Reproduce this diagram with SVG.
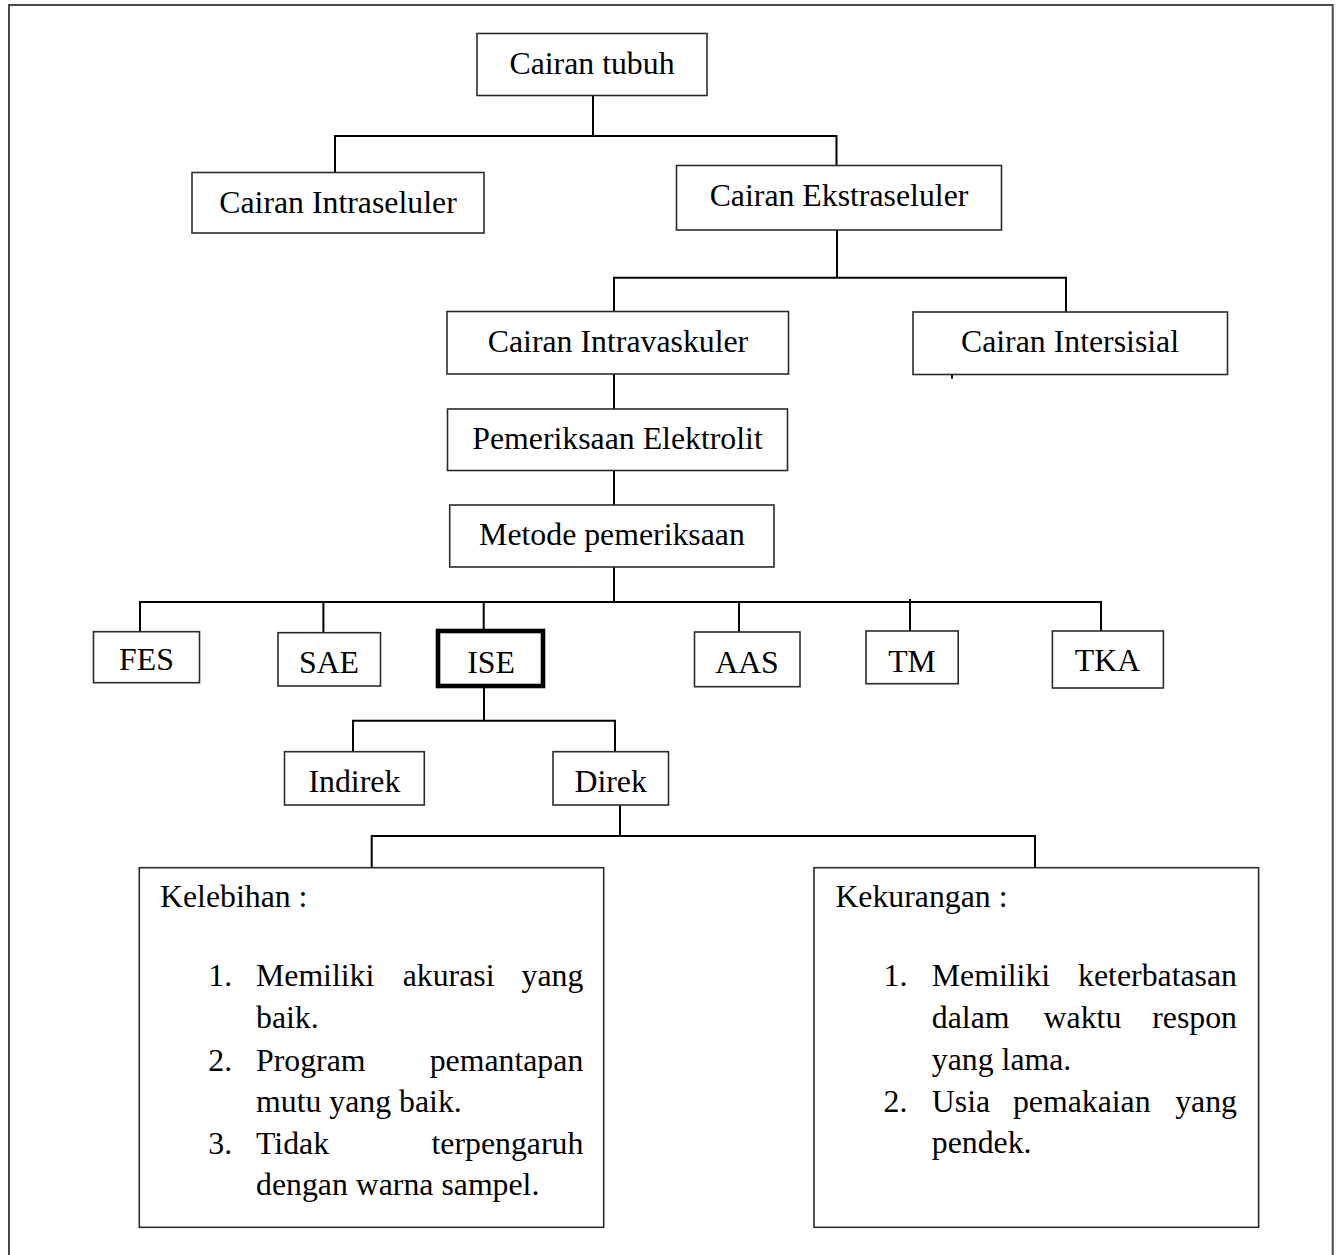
<svg xmlns="http://www.w3.org/2000/svg" width="1337" height="1255" viewBox="0 0 1337 1255">
<style>
  .box { fill: #ffffff; stroke: #2b2b2b; stroke-width: 1.6; }
  .thick { fill: #ffffff; stroke: #000000; stroke-width: 4.6; }
  .lbl { font-family: "Liberation Serif", "Times New Roman", serif; font-size: 31.8px; fill: #000000; text-anchor: middle; }
  .txt { font-family: "Liberation Serif", "Times New Roman", serif; font-size: 31.8px; fill: #000000; }
  .end { text-anchor: end; }
  .conn { fill: none; stroke: #000000; stroke-width: 2; }
</style>
<rect x="0" y="0" width="1337" height="1255" fill="#ffffff"/>
<rect id="frame" x="9" y="5" width="1323.7" height="1270" fill="none" stroke="#4a4a4a" stroke-width="2"/>

<g id="connectors">
  <path class="conn" d="M593,95.5 V136"/>
  <path class="conn" d="M335,172.5 V136 H836.5 V165.5"/>
  <path class="conn" d="M837,230 V277.7"/>
  <path class="conn" d="M614,311.5 V277.7 H1066 V312"/>
  <path class="conn" d="M614,374 V409"/>
  <path class="conn" d="M614,470.5 V505"/>
  <path class="conn" d="M614,567 V602"/>
  <path class="conn" d="M140,631.7 V602 H1101 V631"/>
  <path class="conn" d="M323.4,602 V632.7"/>
  <path class="conn" d="M483.7,602 V629"/>
  <path class="conn" d="M739,602 V632"/>
  <path class="conn" d="M910,599 V631"/>
  <path class="conn" d="M484,688 V720.7"/>
  <path class="conn" d="M353,751.7 V720.7 H615 V751.7"/>
  <path class="conn" d="M620,805 V836"/>
  <path class="conn" d="M371.7,867.7 V836 H1035 V867.7"/>
  <path class="conn" d="M952,374.5 V378.5"/>
</g>

<g id="cairan-tubuh">
  <rect class="box" x="477" y="33.5" width="230" height="62"/>
  <text class="lbl" x="592" y="74">Cairan tubuh</text>
</g>
<g id="cairan-intraseluler">
  <rect class="box" x="192" y="172.5" width="292" height="60.5"/>
  <text class="lbl" x="338" y="213">Cairan Intraseluler</text>
</g>
<g id="cairan-ekstraseluler">
  <rect class="box" x="676.5" y="165.5" width="325" height="64.5"/>
  <text class="lbl" x="839" y="205.7">Cairan Ekstraseluler</text>
</g>
<g id="cairan-intravaskuler">
  <rect class="box" x="447" y="311.5" width="341.5" height="62.5"/>
  <text class="lbl" x="618" y="351.7">Cairan Intravaskuler</text>
</g>
<g id="cairan-intersisial">
  <rect class="box" x="913" y="312" width="314.5" height="62.5"/>
  <text class="lbl" x="1070" y="351.7">Cairan Intersisial</text>
</g>
<g id="pemeriksaan-elektrolit">
  <rect class="box" x="447.5" y="409" width="340" height="61.5"/>
  <text class="lbl" x="617.5" y="449">Pemeriksaan Elektrolit</text>
</g>
<g id="metode-pemeriksaan">
  <rect class="box" x="449.7" y="505" width="324.3" height="62"/>
  <text class="lbl" x="612" y="545">Metode pemeriksaan</text>
</g>
<g id="fes">
  <rect class="box" x="93.5" y="631.7" width="106" height="51"/>
  <text class="lbl" x="146.5" y="670">FES</text>
</g>
<g id="sae">
  <rect class="box" x="278" y="632.7" width="102.5" height="53.3"/>
  <text class="lbl" x="329" y="672.7">SAE</text>
</g>
<g id="ise">
  <rect class="thick" x="438" y="631" width="105" height="55"/>
  <text class="lbl" x="491" y="672.7">ISE</text>
</g>
<g id="aas">
  <rect class="box" x="694.5" y="632" width="105.5" height="54.7"/>
  <text class="lbl" x="747" y="672.7">AAS</text>
</g>
<g id="tm">
  <rect class="box" x="866" y="631" width="92.2" height="52.7"/>
  <text class="lbl" x="912" y="671.7">TM</text>
</g>
<g id="tka">
  <rect class="box" x="1052.4" y="631" width="111" height="57"/>
  <text class="lbl" x="1107.5" y="671">TKA</text>
</g>
<g id="indirek">
  <rect class="box" x="284.5" y="751.7" width="139.8" height="53.3"/>
  <text class="lbl" x="354.4" y="791.7">Indirek</text>
</g>
<g id="direk">
  <rect class="box" x="553" y="751.7" width="115.5" height="53.3"/>
  <text class="lbl" x="610.7" y="791.7">Direk</text>
</g>

<g id="kelebihan">
  <rect class="box" x="139.3" y="867.7" width="464.4" height="359.6"/>
  <text class="txt" x="160" y="907.3">Kelebihan :</text>
  <text class="txt" x="208.3" y="985.7">1.</text>
  <text class="txt" x="256" y="985.7">Memiliki</text>
  <text class="txt" x="402.7" y="985.7">akurasi</text>
  <text class="txt end" x="583.3" y="985.7">yang</text>
  <text class="txt" x="256" y="1028">baik.</text>
  <text class="txt" x="208.3" y="1070.5">2.</text>
  <text class="txt" x="256" y="1070.5">Program</text>
  <text class="txt end" x="583.3" y="1070.5">pemantapan</text>
  <text class="txt" x="256" y="1112">mutu yang baik.</text>
  <text class="txt" x="208.3" y="1153.5">3.</text>
  <text class="txt" x="256" y="1153.5">Tidak</text>
  <text class="txt end" x="583.3" y="1153.5">terpengaruh</text>
  <text class="txt" x="256" y="1195.3">dengan warna sampel.</text>
</g>

<g id="kekurangan">
  <rect class="box" x="814" y="867.7" width="444.6" height="359.6"/>
  <text class="txt" x="835.4" y="907.3">Kekurangan :</text>
  <text class="txt" x="883.6" y="985.7">1.</text>
  <text class="txt" x="931.8" y="985.7">Memiliki</text>
  <text class="txt end" x="1237" y="985.7">keterbatasan</text>
  <text class="txt" x="931.8" y="1028">dalam</text>
  <text class="txt" x="1043.6" y="1028">waktu</text>
  <text class="txt end" x="1237" y="1028">respon</text>
  <text class="txt" x="931.8" y="1070.3">yang lama.</text>
  <text class="txt" x="883.6" y="1111.7">2.</text>
  <text class="txt" x="931.8" y="1111.7">Usia</text>
  <text class="txt" x="1012.9" y="1111.7">pemakaian</text>
  <text class="txt end" x="1237" y="1111.7">yang</text>
  <text class="txt" x="931.8" y="1153.3">pendek.</text>
</g>
</svg>
